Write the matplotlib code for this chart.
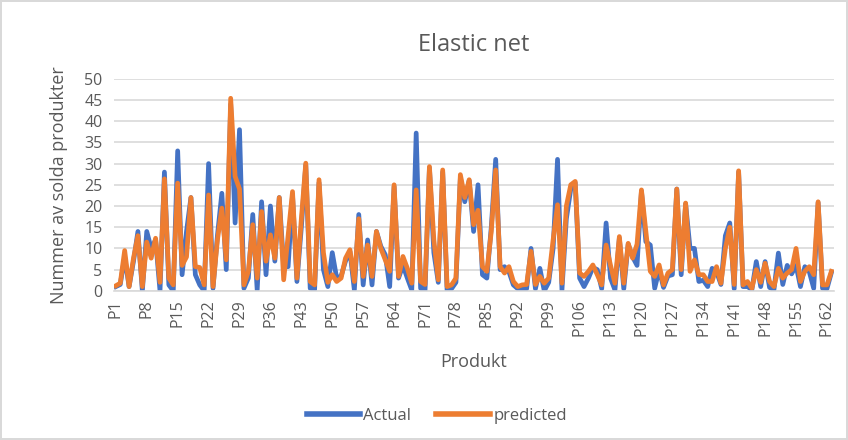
import matplotlib.pyplot as plt
import numpy as np

# sold units per product, actual vs elastic net prediction
actual = [
    1, 1.5, 8, 1, 7, 14, 0, 14, 10, 12,
    0, 28, 1.4, 0, 33, 3.8, 14, 22, 3.8, 1.4,
    0, 30, 0.6, 13, 23, 5, 44, 16, 38, 0.6,
    3, 18, 0.2, 21, 3.8, 20, 7, 22, 5.7, 5.7,
    22.6, 2.2, 15, 29.7, 0.6, 0.3, 25.5, 5, 1, 9,
    3, 3.5, 7, 9.3, 0.2, 18, 1.4, 12, 1.4, 14,
    10.5, 8.5, 1, 24.6, 3, 6, 3, 0.2, 37.2, 0.6,
    0, 29, 9, 2, 28, 0, 0.5, 2, 26.6, 21,
    26, 14, 25, 3.8, 3, 15, 31, 5, 5.7, 4.5,
    1.4, 0.5, 0.5, 0.5, 10, 0.5, 5.3, 0, 2, 10,
    31, 0.2, 17, 24, 25.5, 3, 1, 3, 5.5, 5,
    0.5, 16, 3, 0.2, 12.4, 0.5, 11, 8, 6, 23.5,
    11.6, 10.8, 0.6, 5, 0.8, 3.5, 3.8, 24, 3.8, 20.5,
    10, 10, 2.2, 2.5, 1, 5.3, 4.5, 1.5, 13, 16,
    0.5, 28, 1, 1, 0.3, 6.9, 1, 6.9, 0.8, 0.3,
    8.9, 1.5, 6, 4, 6, 1, 5.7, 4.5, 0.6, 20.8,
    0.6, 0.5, 4.3,
]
predicted = [
    1.2, 1.8, 9.5, 1, 7.7, 13, 1, 11.5, 7.7, 12.4,
    2, 26.4, 3, 1.4, 25.4, 6, 8, 22, 5.7, 5.5,
    1.4, 22.6, 1, 12, 19.5, 7.3, 45.4, 27, 24, 1.4,
    4.6, 15.6, 3, 18.7, 7, 13.2, 7.7, 22, 2.6, 13,
    23.4, 3, 17, 30.1, 2.2, 1.4, 26.2, 9, 2, 3.8,
    2.2, 3, 7.7, 9.7, 2.2, 17, 3.4, 10.8, 3.4, 14,
    10, 7.3, 4.6, 25, 3.4, 8.1, 5.3, 1.8, 23.8, 2.2,
    1.5, 29.3, 12, 2.6, 28.5, 1, 1.4, 3, 27.4, 22,
    26.2, 15.6, 19, 5.7, 4.6, 14, 28.5, 5.7, 4.2, 5.7,
    2.2, 1, 1.4, 1.5, 9.3, 1.5, 3.4, 1.8, 3, 12,
    20.3, 1.8, 20, 25, 25.8, 4.2, 3.4, 4.6, 6.1, 3.8,
    1.4, 10.8, 6, 1.8, 12.8, 1.8, 11.2, 7.7, 11, 23.8,
    14, 4.6, 3.4, 6.1, 1.4, 4.2, 5, 24, 5, 20.7,
    4.6, 7.3, 3.8, 3.8, 2.2, 2.2, 5.7, 1.8, 10, 15,
    1.5, 28.3, 1.4, 2.2, 0.6, 5, 2, 6.5, 2.2, 1,
    5.3, 3, 4.2, 5, 10, 2.2, 4.6, 5.7, 3.8, 21,
    1.4, 1.4, 4.6,
]
products = [f"P{i}" for i in range(1, len(actual) + 1)]

blue = '#4472C4'
orange = '#ED7D31'
text_col = '#595959'
grid_col = '#D9D9D9'

plt.rcParams['font.family'] = ['Open Sans', 'DejaVu Sans']

fig = plt.figure(figsize=(8.48, 4.4), dpi=100)
fig.patch.set_edgecolor('#D9D9D9')
fig.patch.set_linewidth(1.5)
ax = fig.add_axes([0.134, 0.339, 0.849, 0.482])

x = np.arange(len(products))
ax.plot(x, actual, color=blue, lw=3.4, solid_joinstyle='round', label='Actual')
ax.plot(x, predicted, color=orange, lw=3.4, solid_joinstyle='round', label='predicted')

ax.set_xlim(-0.5, len(products) - 0.5)
ax.set_ylim(0, 50)
ax.set_yticks(range(0, 51, 5))
ax.set_xticks(x[::7])
ax.set_xticklabels(products[::7], rotation=90)
ax.tick_params(axis='both', length=0, colors=text_col, labelsize=11.5)
ax.tick_params(axis='x', pad=6)
ax.tick_params(axis='y', pad=8)

ax.grid(axis='y', color=grid_col, lw=1.2)
ax.set_axisbelow(True)
for s in ['top', 'right', 'left']:
    ax.spines[s].set_visible(False)
ax.spines['bottom'].set_color(grid_col)
ax.spines['bottom'].set_linewidth(1.2)

ax.set_title('Elastic net', fontsize=17, color=text_col, pad=20)
ax.set_xlabel('Produkt', fontsize=13, color=text_col, labelpad=12)
ax.set_ylabel('Nummer av solda produkter', fontsize=13, color=text_col, labelpad=12)

leg = fig.legend(loc='center', bbox_to_anchor=(0.515, 0.055), ncol=2, frameon=False,
                 fontsize=12, handlelength=3.2, columnspacing=1.5, handletextpad=0.2)
for t in leg.get_texts():
    t.set_color(text_col)
for h in leg.get_lines():
    h.set_linewidth(4)

fig.savefig('out.png', dpi=100)
